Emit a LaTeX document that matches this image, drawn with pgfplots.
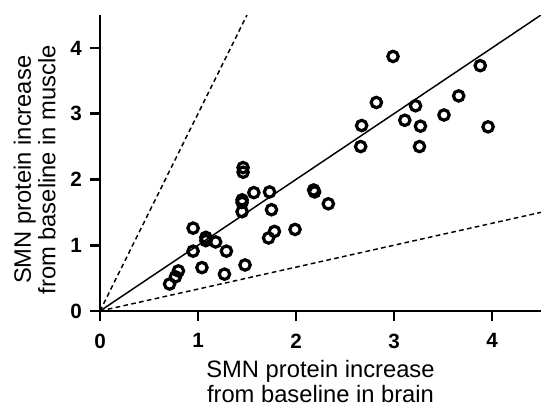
\documentclass[border=0pt]{standalone}
\usepackage{pgfplots}
\pgfplotsset{compat=1.18}
\usepackage{fontspec}
\setmainfont{Liberation Sans}

\begin{document}
\begin{tikzpicture}
\begin{axis}[
  name=ax,
  at={(0,0)}, anchor=south west,
  scale only axis, width=330.75pt, height=222pt,
  xmin=0, xmax=4.5, ymin=0, ymax=4.5,
  axis lines=left,
  axis line style={line width=1.8pt, -},
  xtick={0,1,2,3,4}, ytick={0,1,2,3,4},
  tick align=outside,
  major tick length=7.5pt,
  tick style={black, line width=2pt},
  /pgf/number format/assume math mode=true,
  ticklabel style={font=\fontsize{15.5}{17}\selectfont\bfseries},
  xticklabel style={yshift=-6pt},
  yticklabel style={xshift=-2.5pt},
  xlabel={SMN protein increase\\from baseline in brain},
  ylabel={SMN protein increase\\from baseline in muscle},
  xlabel style={at={(axis description cs:0.5,0)}, anchor=north, yshift=-37pt, inner sep=0pt, align=center, font=\fontsize{17.8}{18.5}\selectfont},
  ylabel style={at={([xshift=-65pt]axis description cs:0,0.477)}, rotate=0, anchor=north, inner sep=0pt, align=center, font=\fontsize{17.8}{18.5}\selectfont},
]
\addplot[black, line width=1.1pt] coordinates {(0,0) (4.5,4.5)};
\addplot[black, line width=1.1pt, dash pattern=on 3.5pt off 2.5pt] coordinates {(0,0) (1.5,4.5)};
\addplot[black, line width=1.1pt, dash pattern=on 3.5pt off 2.5pt] coordinates {(0,0) (4.5,1.5)};
\addplot[only marks, mark=o, mark size=3.9pt, mark options={line width=2.4pt, black}] coordinates {
(2.99,3.87) (3.88,3.73) (2.82,3.17) (3.22,3.12) (3.66,3.27) (3.51,2.98)
(2.67,2.82) (3.11,2.90) (3.27,2.81) (3.96,2.80) (2.66,2.50) (3.26,2.50)
(2.18,1.84) (2.19,1.81) (2.33,1.63) (1.57,1.80) (1.73,1.81)
(1.46,2.18) (1.46,2.11) (1.45,1.69) (1.45,1.65) (1.45,1.51) (1.75,1.54)
(1.78,1.21) (1.72,1.11) (1.99,1.24) (0.95,1.26) (1.08,1.12) (1.08,1.07)
(1.18,1.05) (0.95,0.91) (1.29,0.91) (1.04,0.66) (1.27,0.56) (1.48,0.70)
(0.80,0.61) (0.77,0.52) (0.71,0.41)
};
\end{axis}
\foreach \k in {0,1,2,3,4} {
  \draw[black, line width=2pt] (\k*73.5pt,0pt) -- ++(0pt,-7.5pt);
  \draw[black, line width=2pt] (0pt,\k*49.3333pt) -- ++(-7.5pt,0pt);
}
\pgfresetboundingbox
\path (-75pt,-72.75pt) rectangle (330.75pt,233.25pt);
\end{tikzpicture}
\end{document}
